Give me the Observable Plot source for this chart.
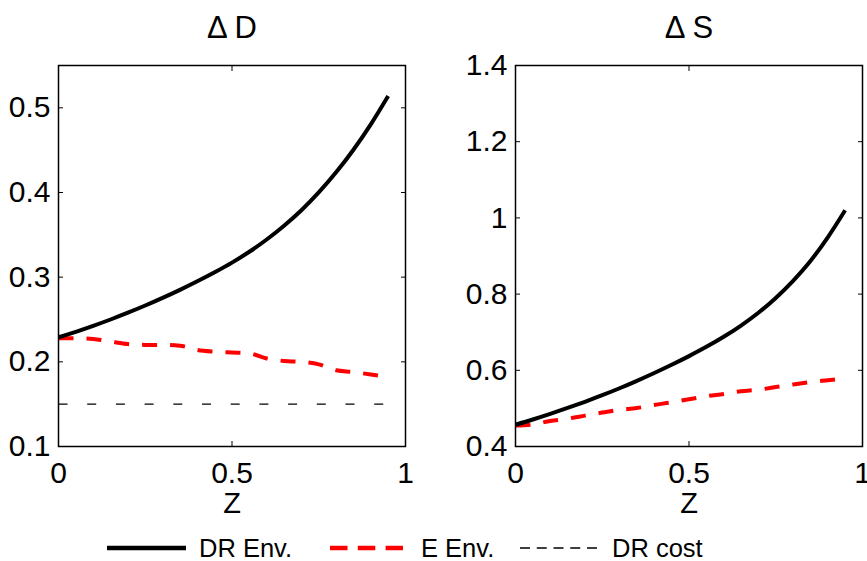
<!DOCTYPE html>
<html><head><meta charset="utf-8">
<script src="https://cdn.jsdelivr.net/npm/d3@7"></script>
<script src="https://cdn.jsdelivr.net/npm/@observablehq/plot@0.6"></script>
<style>
html,body{margin:0;padding:0;background:#fff;}
#chart{position:relative;width:867px;height:561px;overflow:hidden;font-family:"Liberation Sans",Arial,Helvetica,sans-serif;}
#chart > svg{position:absolute;}
</style></head><body><div id="chart"></div>
<script>
// ---- data ----
const z = [0,0.05,0.1,0.15,0.2,0.25,0.3,0.35,0.4,0.45,0.5,0.55,0.6,0.65,0.7,0.75,0.8,0.85,0.9,0.95];
const dD_DREnv = [0.229,0.2355,0.2425,0.250,0.258,0.2665,0.2755,0.285,0.2951,0.3058,0.3172,0.330,0.3445,0.3608,0.3791,0.4001,0.4238,0.4505,0.4805,0.514];
const dD_EEnv  = [0.228,0.228,0.227,0.224,0.221,0.220,0.220,0.219,0.214,0.212,0.211,0.210,0.204,0.201,0.200,0.197,0.190,0.188,0.185,0.182];
const costZ = [0,0.95];
const dD_DRcost = [0.15,0.15];
const dS_DREnv = [0.457,0.4708,0.4856,0.5011,0.5174,0.5346,0.5529,0.5724,0.5929,0.6144,0.6372,0.6615,0.688,0.7175,0.751,0.790,0.835,0.887,0.949,1.020];
const dS_EEnv  = [0.455,0.458,0.467,0.473,0.481,0.489,0.496,0.501,0.509,0.516,0.524,0.532,0.538,0.545,0.549,0.556,0.563,0.569,0.574,0.579];
const titles = ["\u0394 D","\u0394 S"];
const xLabel = "Z";
const xTicks = [0,0.5,1];
const yTicksD = [0.1,0.2,0.3,0.4,0.5];
const yTicksS = [0.4,0.6,0.8,1,1.2,1.4];
const legendLabels = ["DR Env.","E Env.","DR cost"];

const FONT = '"Liberation Sans",Arial,Helvetica,sans-serif';
const chart = document.getElementById("chart");

function panel({title, yDomain, yTicks, lines, width, marginLeft, marginRight}) {
  const fmt = d => String(d);
  const marks = [];
  for (const L of lines) {
    marks.push(Plot.line(L.x, {x: L.x, y: L.y, stroke: L.stroke, strokeWidth: L.width, curve: L.curve,
      strokeDasharray: L.dash, strokeLinecap: "butt", strokeLinejoin: "round"}));
  }
  marks.push(
    Plot.frame({stroke: "#000", strokeWidth: 1.5}),
    Plot.axisX(xTicks, {anchor: "bottom", tickSize: 0, tickPadding: 15, tickFormat: fmt, label: null, fontSize: 30}),
    Plot.axisX(xTicks, {anchor: "bottom", tickSize: -5, tickFormat: () => "", label: null}),
    Plot.axisX(xTicks, {anchor: "top", tickSize: -5, tickFormat: () => "", label: null}),
    Plot.axisY(yTicks, {anchor: "left", tickSize: 0, tickPadding: 8, tickFormat: fmt, label: null, fontSize: 30}),
    Plot.axisY(yTicks, {anchor: "left", tickSize: -5, tickFormat: () => "", label: null}),
    Plot.axisY(yTicks, {anchor: "right", tickSize: -5, tickFormat: () => "", label: null}),
    Plot.text([title], {frameAnchor: "top", lineAnchor: "middle", dy: -37, fontSize: 31}),
    Plot.text([xLabel], {frameAnchor: "bottom", lineAnchor: "middle", dy: 57, fontSize: 29})
  );
  return Plot.plot({
    width, height: 525, marginLeft, marginRight, marginTop: 65, marginBottom: 79,
    style: {fontFamily: FONT, fontSize: "30px", color: "#000", background: "transparent", overflow: "visible"},
    x: {domain: [0, 1]},
    y: {domain: yDomain},
    marks
  });
}

const left = panel({
  title: titles[0], yDomain: [0.1, 0.55], yTicks: yTicksD,
  width: 433, marginLeft: 58, marginRight: 28,
  lines: [
    {x: costZ, y: dD_DRcost, stroke: "#000", width: 1.2, dash: "9,19.7", curve: "linear"},
    {x: z, y: dD_EEnv, stroke: "#ff0000", width: 4, dash: "15,13", curve: "monotone-x"},
    {x: z, y: dD_DREnv, stroke: "#000", width: 4, dash: null, curve: "monotone-x"}
  ]
});
left.style.left = "0px"; left.style.top = "0px";
chart.appendChild(left);

const right = panel({
  title: titles[1], yDomain: [0.4, 1.4], yTicks: yTicksS,
  width: 434, marginLeft: 82, marginRight: 5,
  lines: [
    {x: z, y: dS_EEnv, stroke: "#ff0000", width: 4, dash: "15,13", curve: "monotone-x"},
    {x: z, y: dS_DREnv, stroke: "#000", width: 4, dash: null, curve: "monotone-x"}
  ]
});
right.style.left = "433px"; right.style.top = "0px";
chart.appendChild(right);

// legend below the panels
const leg = d3.create("svg").attr("width", 867).attr("height", 36)
  .style("left", "0px").style("top", "525px").style("font-family", FONT);
const items = [
  {x1: 107, x2: 186, tx: 199, stroke: "#000", w: 4.5, dash: null},
  {x1: 330, x2: 403, tx: 421, stroke: "#ff0000", w: 4.5, dash: "17.5,10.3"},
  {x1: 520, x2: 597, tx: 612, stroke: "#000", w: 1.5, dash: "10,6.75"}
];
items.forEach((it, i) => {
  leg.append("line").attr("x1", it.x1).attr("x2", it.x2).attr("y1", 23).attr("y2", 23)
    .attr("stroke", it.stroke).attr("stroke-width", it.w).attr("stroke-dasharray", it.dash);
  leg.append("text").attr("x", it.tx).attr("y", 32).attr("font-size", 25.5).attr("fill", "#000")
    .text(legendLabels[i]);
});
chart.appendChild(leg.node());
</script></body></html>
